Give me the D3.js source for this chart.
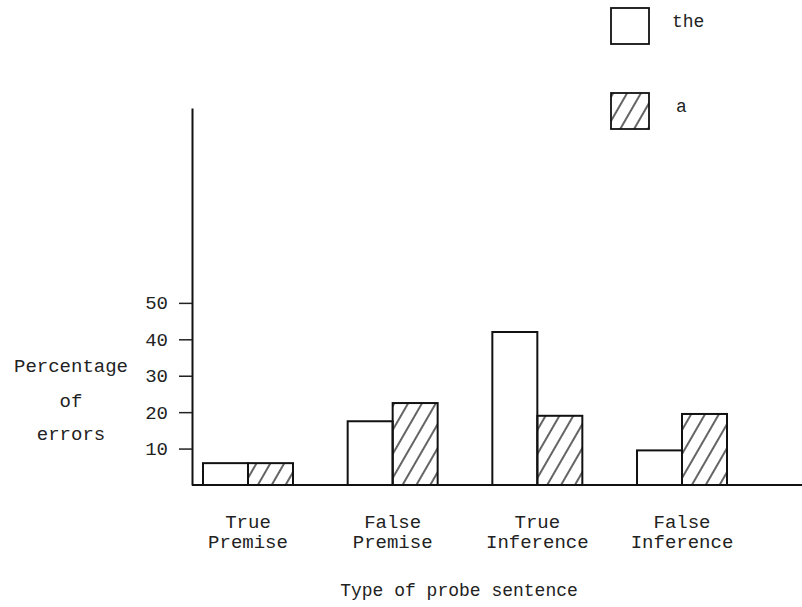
<!DOCTYPE html>
<html>
<head>
<meta charset="utf-8">
<script src="https://cdn.jsdelivr.net/npm/d3@7"></script>
<style>
  body { margin: 0; background: #fff; }
  text { font-family: "Liberation Mono", "DejaVu Sans Mono", monospace; fill: #222; }
</style>
</head>
<body>
<div id="chart"></div>
<script>
// Data
const categories = [["True", "Premise"], ["False", "Premise"], ["True", "Inference"], ["False", "Inference"]];
const articles = ["the", "a"];
const theValues = [6, 17.5, 42, 9.5];
const aValues = [6, 22.5, 19, 19.5];
const yTicks = [10, 20, 30, 40, 50];
const yTitle = ["Percentage", "of", "errors"];
const xTitle = "Type of probe sentence";

const width = 802, height = 607;

const svg = d3.select("#chart")
    .append("svg")
    .attr("width", width)
    .attr("height", height);

// hatch pattern for the "a" bars
const defs = svg.append("defs");
defs.append("pattern")
    .attr("id", "hatch")
    .attr("patternUnits", "userSpaceOnUse")
    .attr("width", 12)
    .attr("height", 12)
    .attr("patternTransform", "rotate(30)")
  .append("line")
    .attr("x1", 2).attr("y1", 0)
    .attr("x2", 2).attr("y2", 12)
    .attr("stroke", "#222")
    .attr("stroke-width", 1.4);

const fills = d3.scaleOrdinal().domain(articles).range(["#fff", "url(#hatch)"]);

// scales
const catKeys = categories.map(c => c.join(" "));
const x = d3.scaleBand()
    .domain(catKeys)
    .range([203, 727])
    .paddingInner(0.378)
    .paddingOuter(0);

const xInner = d3.scaleBand()
    .domain(articles)
    .range([0, x.bandwidth()]);

const y = d3.scaleLinear()
    .domain([0, 103.5])
    .range([485, 108]);

const axisX = 192;

// y axis
const yAxis = d3.axisLeft(y)
    .tickValues(yTicks)
    .tickSize(13)
    .tickSizeOuter(0)
    .tickPadding(11);

const gy = svg.append("g")
    .attr("transform", `translate(${axisX},0)`)
    .call(yAxis);
gy.select(".domain").attr("stroke", "#111").attr("stroke-width", 2);
gy.selectAll(".tick line").attr("stroke", "#222").attr("stroke-width", 1.5);
gy.selectAll(".tick text")
    .attr("font-family", "Liberation Mono, monospace")
    .attr("font-size", 19)
    .attr("fill", "#222");

// bars
const rows = catKeys.map((k, i) => ({ key: k, the: theValues[i], a: aValues[i] }));

const groups = svg.selectAll(".group")
    .data(rows)
    .join("g")
    .attr("class", "group")
    .attr("transform", d => `translate(${x(d.key)},0)`);

groups.selectAll("rect")
    .data(d => articles.map(a => ({ article: a, value: d[a] })))
    .join("rect")
    .attr("x", d => xInner(d.article))
    .attr("y", d => y(d.value))
    .attr("width", xInner.bandwidth())
    .attr("height", d => y(0) - y(d.value))
    .attr("fill", d => fills(d.article))
    .attr("stroke", "#111")
    .attr("stroke-width", 2);

// baseline
svg.append("line")
    .attr("x1", axisX)
    .attr("x2", width)
    .attr("y1", y(0))
    .attr("y2", y(0))
    .attr("stroke", "#111")
    .attr("stroke-width", 2);

// category labels
const catLabels = svg.selectAll(".cat-label")
    .data(categories)
    .join("text")
    .attr("class", "cat-label")
    .attr("text-anchor", "middle")
    .attr("font-size", 19)
    .attr("x", (d, i) => x(catKeys[i]) + x.bandwidth() / 2)
    .attr("y", 528);

catLabels.selectAll("tspan")
    .data(d => d)
    .join("tspan")
    .attr("x", function () { return d3.select(this.parentNode).attr("x"); })
    .attr("dy", (d, i) => i === 0 ? 0 : 20)
    .text(d => d);

// x title
svg.append("text")
    .attr("text-anchor", "middle")
    .attr("x", 459)
    .attr("y", 596)
    .attr("font-size", 18)
    .text(xTitle);

// y title
svg.selectAll(".y-title")
    .data(yTitle)
    .join("text")
    .attr("class", "y-title")
    .attr("text-anchor", "middle")
    .attr("x", 71)
    .attr("y", (d, i) => [372, 407, 440][i])
    .attr("font-size", 19)
    .text(d => d);

// legend
const legend = svg.selectAll(".legend")
    .data(articles)
    .join("g")
    .attr("class", "legend")
    .attr("transform", (d, i) => `translate(611,${8 + i * 85})`);

legend.append("rect")
    .attr("width", 38)
    .attr("height", 36)
    .attr("fill", d => fills(d))
    .attr("stroke", "#111")
    .attr("stroke-width", 1.8);

legend.append("text")
    .attr("x", d => d === "the" ? 61 : 65)
    .attr("y", 19)
    .attr("font-size", 18)
    .text(d => d);
</script>
</body>
</html>
